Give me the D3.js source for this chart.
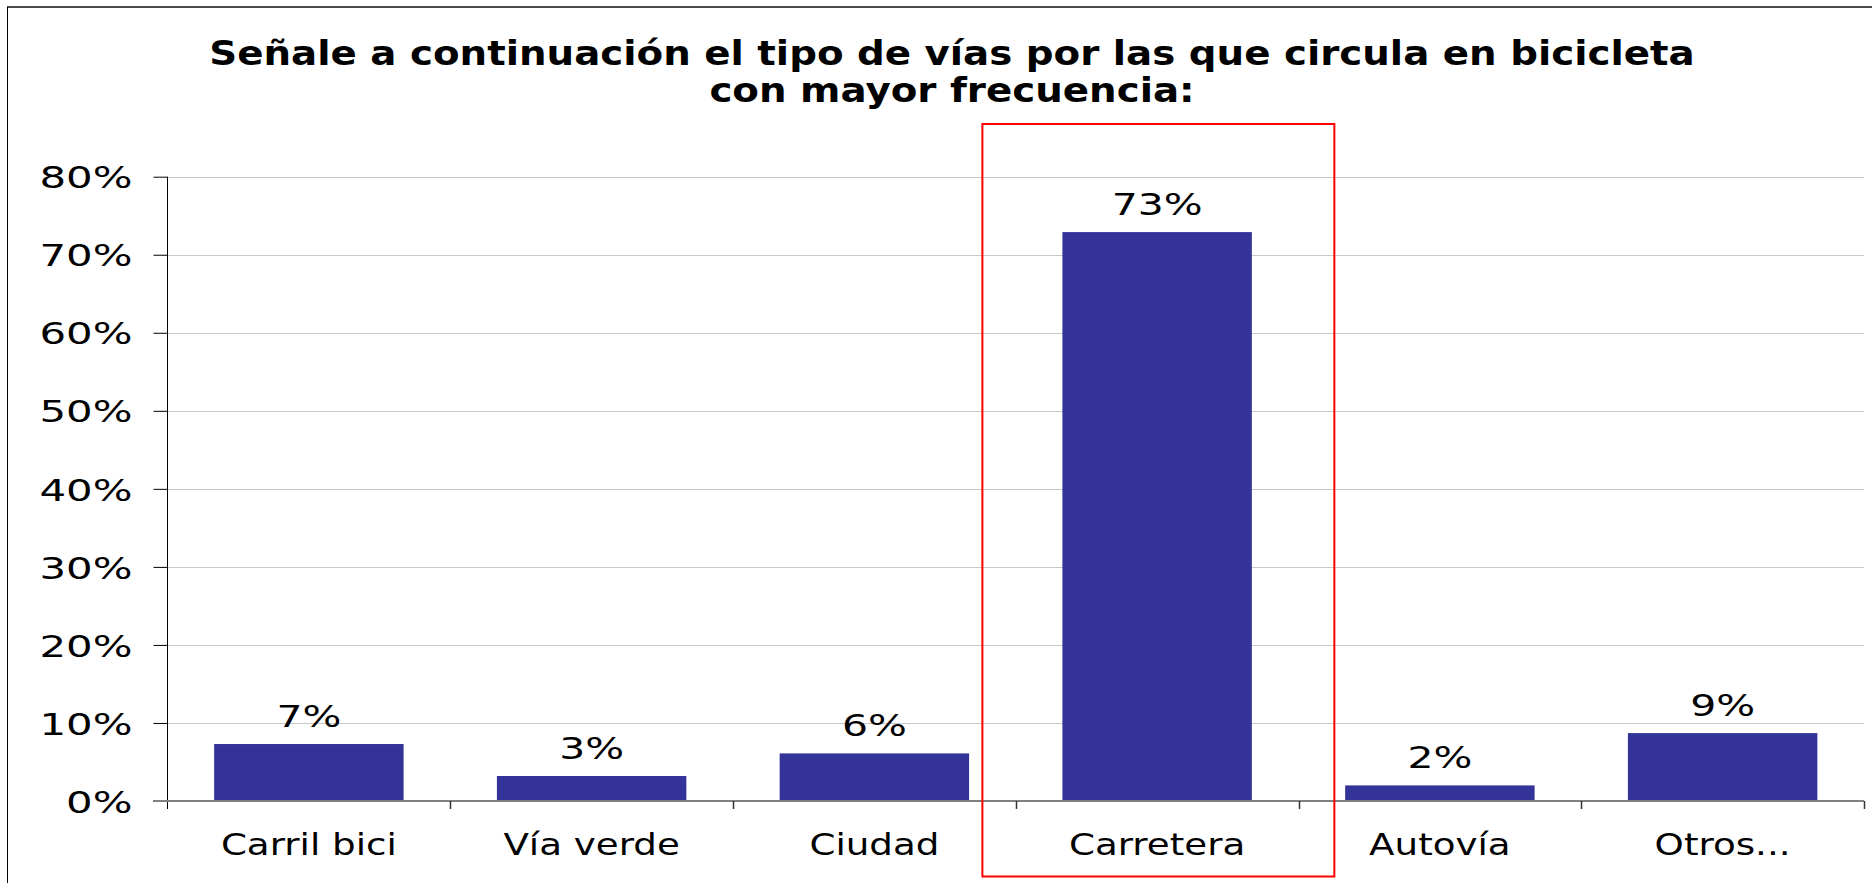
<!DOCTYPE html>
<html>
<head>
<meta charset="utf-8">
<script src="https://cdn.jsdelivr.net/npm/d3@7"></script>
<style>
  body { margin: 0; background: #fff; }
  svg { display: block; }
</style>
</head>
<body>
<svg id="chart" width="1872" height="883"></svg>
<script>
// donnees
const categories = ["Carril bici", "Vía verde", "Ciudad", "Carretera", "Autovía", "Otros..."];
const valores = [7.3, 3.2, 6.1, 72.9, 2.0, 8.7];
const etiquetas = ["7%", "3%", "6%", "73%", "2%", "9%"];
const yTicks = [0, 10, 20, 30, 40, 50, 60, 70, 80];
const titulo = ["Señale a continuación el tipo de vías por las que circula en bicicleta",
                "con mayor frecuencia:"];
const destacado = "Carretera";

const WIDTH = 1872, HEIGHT = 883;
const FONT = "'DejaVu Sans', Verdana, sans-serif";

let svg = d3.select("#chart");
svg.append("rect").attr("width", WIDTH).attr("height", HEIGHT).attr("fill", "#fff");

let x = d3.scaleBand()
    .domain(categories)
    .range([167.5, 1864])
    .paddingInner(0.33)
    .paddingOuter(0.165);

let y = d3.scaleLinear()
    .domain([0, 80])
    .range([801, 176.7]);

// le texte de l'image d'origine est etire horizontalement
function stretch(sel, k) {
    sel.each(function() {
        let len = this.getComputedTextLength();
        d3.select(this).attr("textLength", len * k).attr("lengthAdjust", "spacingAndGlyphs");
    });
}

// cadre
svg.append("line").attr("x1", 7).attr("x2", WIDTH).attr("y1", 7).attr("y2", 7)
    .attr("stroke", "#4a4a4a").attr("stroke-width", 2);
svg.append("line").attr("x1", 7.5).attr("x2", 7.5).attr("y1", 7).attr("y2", HEIGHT)
    .attr("stroke", "#000").attr("stroke-width", 1);

// titre
svg.append("g").selectAll("text")
    .data(titulo)
    .join("text")
    .attr("x", 952)
    .attr("y", (d, i) => 64.5 + i * 37)
    .attr("text-anchor", "middle")
    .style("font-family", FONT)
    .style("font-weight", "bold")
    .style("font-size", "34px")
    .style("fill", "#000")
    .text(d => d)
    .call(stretch, 1.14);

// grille
svg.append("g").selectAll("line")
    .data(yTicks.filter(d => d > 0))
    .join("line")
    .attr("x1", 167.5).attr("x2", 1864)
    .attr("y1", d => Math.round(y(d)) + 0.5).attr("y2", d => Math.round(y(d)) + 0.5)
    .attr("stroke", "#c8c8c8").attr("stroke-width", 1);

// axe y
let yAxis = svg.append("g")
    .attr("transform", "translate(167.5,0)")
    .call(d3.axisLeft(y).tickValues(yTicks).tickSize(14).tickPadding(21).tickFormat(d => d + "%"));
yAxis.select(".domain").remove();
yAxis.selectAll(".tick line").attr("stroke", "#000");
yAxis.selectAll("text")
    .style("font-family", FONT).style("font-size", "31px").style("fill", "#000")
    .attr("dy", "0.36em")
    .call(stretch, 1.35);
svg.append("line").attr("x1", 167.5).attr("x2", 167.5).attr("y1", 176.7).attr("y2", 809)
    .attr("stroke", "#000").attr("stroke-width", 1);

// barres
svg.append("g").selectAll("rect")
    .data(valores)
    .join("rect")
    .attr("x", (d, i) => x(categories[i]))
    .attr("y", d => y(d))
    .attr("width", x.bandwidth())
    .attr("height", d => y(0) - y(d))
    .attr("fill", "#333399");

// axe x
svg.append("line").attr("x1", 153).attr("x2", 1864).attr("y1", 801).attr("y2", 801)
    .attr("stroke", "#808080").attr("stroke-width", 2);
let bornes = categories.map(c => x(c) + x.bandwidth() / 2 + x.step() / 2);
svg.append("g").selectAll("line")
    .data(bornes)
    .join("line")
    .attr("x1", d => Math.round(d) + 0.5).attr("x2", d => Math.round(d) + 0.5)
    .attr("y1", 801).attr("y2", 809)
    .attr("stroke", "#333").attr("stroke-width", 1.5);

svg.append("g").selectAll("text")
    .data(categories)
    .join("text")
    .attr("x", d => x(d) + x.bandwidth() / 2)
    .attr("y", 855)
    .attr("text-anchor", "middle")
    .style("font-family", FONT).style("font-size", "31px").style("fill", "#000")
    .text(d => d)
    .call(stretch, 1.2);

// etiquettes des valeurs
svg.append("g").selectAll("text")
    .data(valores)
    .join("text")
    .attr("x", (d, i) => x(categories[i]) + x.bandwidth() / 2)
    .attr("y", d => y(d) - 17)
    .attr("text-anchor", "middle")
    .style("font-family", FONT).style("font-size", "31px").style("fill", "#000")
    .text((d, i) => etiquetas[i])
    .call(stretch, 1.32);

// cadre rouge autour de la categorie mise en avant
svg.append("rect")
    .attr("x", x(destacado) - 80)
    .attr("y", 124)
    .attr("width", x.bandwidth() + 160 + 2.5)
    .attr("height", 752.5)
    .attr("fill", "none")
    .attr("stroke", "#ff0000")
    .attr("stroke-width", 2);
</script>
</body>
</html>
